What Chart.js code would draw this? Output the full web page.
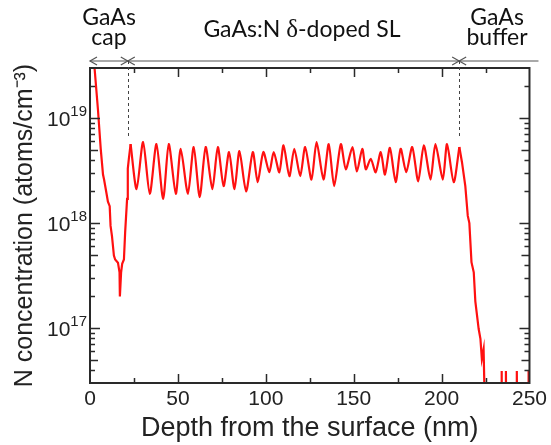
<!DOCTYPE html>
<html><head><meta charset="utf-8">
<script src="https://cdn.jsdelivr.net/npm/chart.js@4/dist/chart.umd.min.js"></script>
<style>html,body{margin:0;padding:0;background:#fff}</style>
</head><body>
<canvas id="c" width="551" height="445" style="width:551px;height:445px;display:block"></canvas>
<script>
// ---- data (depth in nm, N concentration in atoms/cm^3) ----
const depthNm = [
  1.5, 4.5, 6.1, 7.4, 8.0, 9.2, 10.2, 11.2, 11.7, 12.5, 13.6, 14.3, 15.9, 16.8, 17.0, 17.7, 18.3, 19.3, 20.0, 21.1, 21.5, 22.1,
  23.1, 26.5, 30.2, 34.0, 37.8, 41.6, 44.8, 48.8, 51.6, 55.7, 59.0, 62.4, 65.8, 69.6, 72.7, 76.0,
  79.1, 82.2, 85.0, 88.8, 92.6, 95.4, 98.6, 102.0, 104.5, 107.7, 110.1, 113.4, 116.2, 119.6, 122.4, 126.0,
  128.9, 132.8, 135.8, 138.9, 142.7, 145.5, 149.3, 151.8, 154.9, 156.9, 159.7, 162.5, 165.4, 167.8,
  170.6, 173.9, 176.7, 179.9, 183.3, 186.7, 189.9, 193.7, 196.5, 200.7, 203.1, 206.9, 210.1,
  211.6, 213.5, 214.9, 215.8, 217.0, 218.3, 219.2, 221.1, 222.1, 222.9, 223.9, 224.9,
  233.9, 234.1, 234.3, 236.4, 236.6, 236.8, 242.6, 242.8, 243.0, 249.2, 249.4, 249.6
];
const nConc = [
  5.0e19, 1.22e19, 5.1e18, 2.9e18, 2.6e18, 2.0e18, 1.6e18, 1.45e18, 9.4e17, 7.5e17, 4.9e17, 4.5e17, 4.2e17, 3.4e17, 2.0e17, 3.4e17, 4.1e17, 4.5e17, 8.2e17, 1.7e18, 3.3e18, 4.1e18,
  5.65e18, 2.1e18, 5.9e18, 1.9e18, 5.65e18, 1.7e18, 5.65e18, 1.9e18, 5.1e18, 1.9e18, 5.3e18, 1.77e18, 5.3e18, 2.1e18, 5.3e18, 2.25e18,
  4.75e18, 2.1e18, 4.85e18, 2.0e18, 4.75e18, 2.45e18, 4.75e18, 3.05e18, 4.75e18, 3.05e18, 5.5e18, 2.8e18, 5.1e18, 2.8e18, 5.3e18, 2.6e18,
  5.9e18, 2.6e18, 5.65e18, 2.25e18, 5.65e18, 3.25e18, 5.3e18, 3.1e18, 5.1e18, 3.25e18, 4.1e18, 3.05e18, 4.75e18, 2.9e18,
  5.2e18, 2.45e18, 5.1e18, 3.05e18, 5.3e18, 2.5e18, 5.5e18, 2.6e18, 5.65e18, 2.6e18, 5.65e18, 2.45e18, 5.3e18,
  3.8e18, 2.25e18, 1.17e18, 1.0e18, 4.25e17, 3.4e17, 1.8e17, 9.8e16, 7.9e16, 5.1e16, 6.3e16, 1.0e16,
  1.0e16, 3.9e16, 1.0e16, 1.0e16, 3.9e16, 1.0e16, 1.0e16, 3.9e16, 1.0e16, 1.0e16, 4.0e16, 1.0e16
];
const xTickValues = [0, 50, 100, 150, 200, 250];
const yDecadeExponents = [17, 18, 19];
const layerBounds = [0, 21.5, 210];          // nm: cap / SL / buffer boundaries
const capLabel = ['GaAs', 'cap'];
const slLabel = ['GaAs:N ', 'δ', '-doped SL'];
const bufferLabel = ['GaAs', 'buffer'];
const xTitle = 'Depth from the surface (nm)';
const yTitle = 'N concentration (atoms/cm⁻³)';

const AXIS = '#2a2a2a';
const SANS = '"Liberation Sans", Arial, sans-serif';
const LABELFONT = 'Lato, "Open Sans", sans-serif';
const SERIF = '"Liberation Serif", "DejaVu Serif", serif';

const framePlugin = {
  id: 'frame',
  afterDraw(chart) {
    const {ctx, chartArea: a, scales: {x, y}} = chart;
    ctx.save();
    ctx.strokeStyle = AXIS; ctx.lineWidth = 2;
    ctx.strokeRect(a.left, a.top, a.right - a.left, a.bottom - a.top);
    ctx.lineWidth = 1.5;
    for (let v = 25; v < 250; v += 25) {
      const px = Math.round(x.getPixelForValue(v)) + 0.5;
      const len = v % 50 === 0 ? 9 : 5;
      ctx.beginPath();
      ctx.moveTo(px, a.bottom); ctx.lineTo(px, a.bottom - len);
      ctx.moveTo(px, a.top); ctx.lineTo(px, a.top + len);
      ctx.stroke();
    }
    for (let d = 16; d <= 19; d++) {
      for (let m = 1; m <= 9; m++) {
        const v = m * Math.pow(10, d);
        if (v <= y.min * 1.0001 || v >= y.max * 0.9999) continue;
        const py = Math.round(y.getPixelForValue(v)) + 0.5;
        const len = m === 1 ? 10 : (m === 5 ? 8 : 5);
        ctx.beginPath();
        ctx.moveTo(a.left, py); ctx.lineTo(a.left + len, py);
        ctx.moveTo(a.right, py); ctx.lineTo(a.right - len, py);
        ctx.stroke();
      }
    }
    ctx.fillStyle = '#222';
    ctx.textBaseline = 'alphabetic';
    ctx.textAlign = 'right';
    yDecadeExponents.forEach(e => {
      const py = y.getPixelForValue(Math.pow(10, e));
      const sup = String(e);
      ctx.font = '15px ' + SANS;
      const sw = ctx.measureText(sup).width;
      ctx.fillText(sup, a.left - 3, py - 2);
      ctx.font = '21px ' + SANS;
      ctx.fillText('10', a.left - 3 - sw, py + 8);
    });
    ctx.restore();
  }
};

const layerPlugin = {
  id: 'layers',
  afterDraw(chart) {
    const {ctx, chartArea: a, scales: {x, y}} = chart;
    const ay = 61;
    ctx.save();
    ctx.strokeStyle = '#555'; ctx.lineWidth = 1.2;
    ctx.beginPath(); ctx.moveTo(a.left, ay); ctx.lineTo(a.right + 9, ay); ctx.stroke();
    const head = (px, dir) => {
      ctx.beginPath();
      ctx.moveTo(px + dir * 7, ay - 4); ctx.lineTo(px, ay); ctx.lineTo(px + dir * 7, ay + 4);
      ctx.stroke();
    };
    const b0 = x.getPixelForValue(layerBounds[0]);
    const b1 = x.getPixelForValue(layerBounds[1]);
    const b2 = x.getPixelForValue(layerBounds[2]);
    head(b0, 1); head(b1, -1); head(b1, 1); head(b2, -1); head(b2, 1);
    ctx.setLineDash([3, 3]); ctx.lineWidth = 1; ctx.strokeStyle = '#444';
    const yEnd = y.getPixelForValue(6.6e18);
    [b1, b2].forEach(px => {
      ctx.beginPath(); ctx.moveTo(Math.round(px) + 0.5, ay); ctx.lineTo(Math.round(px) + 0.5, yEnd); ctx.stroke();
    });
    ctx.setLineDash([]);
    ctx.fillStyle = '#111';
    ctx.textBaseline = 'alphabetic';
    const f = '23px ' + LABELFONT;
    ctx.font = f; ctx.textAlign = 'center';
    ctx.fillText(capLabel[0], 109, 25);
    ctx.fillText(capLabel[1], 109, 45);
    ctx.fillText(bufferLabel[0], 497, 25);
    ctx.fillText(bufferLabel[1], 497, 45);
    const fd = '25px ' + SERIF;
    ctx.font = f; const w1 = ctx.measureText(slLabel[0]).width, w3 = ctx.measureText(slLabel[2]).width;
    ctx.font = fd; const w2 = ctx.measureText(slLabel[1]).width;
    let sx = 302 - (w1 + w2 + w3) / 2;
    ctx.textAlign = 'left';
    ctx.font = f; ctx.fillText(slLabel[0], sx, 37); sx += w1;
    ctx.font = fd; ctx.fillText(slLabel[1], sx, 37); sx += w2;
    ctx.font = f; ctx.fillText(slLabel[2], sx, 37);
    ctx.restore();
  }
};

const pts = depthNm.map((d, i) => ({x: d, y: nConc[i]}));
const slStart = depthNm.indexOf(23.1), slEnd = depthNm.indexOf(210.1);
const lineStyle = {borderColor: '#ff1010', borderWidth: 2.2, pointRadius: 0, fill: false};

new Chart(document.getElementById('c'), {
  type: 'line',
  data: {
    datasets: [
      Object.assign({data: pts.slice(0, slStart + 1), tension: 0}, lineStyle),
      Object.assign({data: pts.slice(slStart, slEnd + 1), tension: 0.25}, lineStyle),
      Object.assign({data: pts.slice(slEnd), tension: 0}, lineStyle)
    ]
  },
  options: {
    responsive: false,
    devicePixelRatio: 1,
    animation: false,
    layout: {padding: {left: 0, right: 20, top: 68, bottom: 0}},
    plugins: {legend: {display: false}, tooltip: {enabled: false}},
    scales: {
      x: {
        type: 'linear', position: 'bottom', min: 0, max: 250,
        afterBuildTicks: s => { s.ticks = xTickValues.map(v => ({value: v})); },
        afterFit: s => { s.height = 62; },
        grid: {display: false, drawTicks: false},
        border: {display: false},
        ticks: {color: '#222', font: {family: SANS, size: 21}, padding: 4, maxRotation: 0},
        title: {display: true, text: xTitle, color: '#222', font: {family: SANS, size: 27}, padding: {top: 0, bottom: 0}}
      },
      y: {
        type: 'logarithmic', position: 'left', min: 3e16, max: 3e19,
        afterFit: s => { s.width = 90; },
        grid: {display: false, drawTicks: false},
        border: {display: false},
        ticks: {display: false},
        title: {display: true, text: yTitle, color: '#222', font: {family: SANS, size: 25}, padding: {top: 10, bottom: 0}}
      }
    }
  },
  plugins: [framePlugin, layerPlugin]
});
</script>
</body></html>
